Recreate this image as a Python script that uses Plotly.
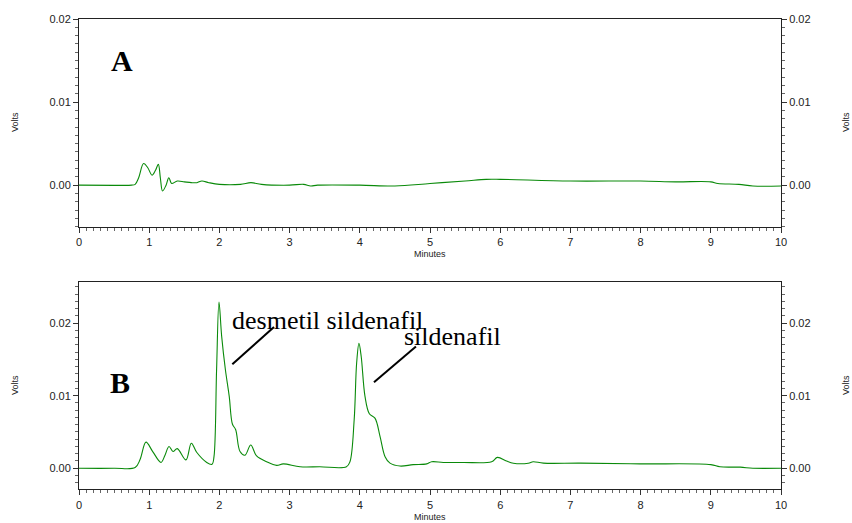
import plotly.graph_objects as go

# Panel A chromatogram (minutes, volts)
time_a = [0.0, 0.5, 0.75, 0.8, 0.85, 0.92, 0.98, 1.04, 1.09, 1.13, 1.16, 1.19, 1.24, 1.28, 1.32, 1.4, 1.5,
          1.6, 1.68, 1.75, 1.85, 2.0, 2.3, 2.45, 2.6, 3.0, 3.2, 3.3, 3.4, 4.0, 4.5, 5.0, 5.5, 5.8,
          6.0, 7.0, 8.0, 8.5, 9.0, 9.1, 9.4, 9.6, 10.0]
volts_a = [0.0, -0.00002, 0.0, 0.0001, 0.0009, 0.0026, 0.0021, 0.0012, 0.0018, 0.0025, 0.0008, -0.0007,
           0.0, 0.0009, 0.0002, 0.0005, 0.0004, 0.0003, 0.0003, 0.0005, 0.0003, 0.0001, 0.0001, 0.0003,
           0.0001, 0.0, 0.0001, -0.0001, 0.0, 0.0, -0.0001, 0.0002, 0.0005, 0.0007, 0.0007, 0.0005,
           0.0005, 0.0004, 0.0004, 0.0002, 0.0001, -0.0001, -0.0001]

# Panel B chromatogram
time_b = [0.0, 0.5, 0.8, 0.87, 0.954, 1.05, 1.168, 1.225, 1.282, 1.339, 1.40, 1.524, 1.60, 1.676, 1.82,
          1.895, 1.923, 1.96, 1.994, 2.032, 2.085, 2.14, 2.185, 2.232, 2.294, 2.365, 2.446, 2.53,
          2.673, 2.815, 2.91, 3.149, 3.43, 3.81, 3.86, 3.92, 3.955, 3.988, 4.02, 4.074, 4.136, 4.216,
          4.288, 4.36, 4.43, 4.573, 4.76, 4.953, 5.024, 5.19, 5.474, 5.878, 5.96, 6.09, 6.187, 6.4,
          6.47, 6.614, 7.14, 7.99, 9.0, 9.13, 9.42, 9.6, 10.0]
volts_b = [0.0, 0.0, 0.0001, 0.0012, 0.0036, 0.0023, 0.0008, 0.0018, 0.0030, 0.0023, 0.0027, 0.00115,
           0.00345, 0.0022, 0.0008, 0.00055, 0.0016, 0.0136, 0.0229, 0.0182, 0.0136, 0.0099, 0.0061,
           0.0053, 0.0023, 0.0018, 0.0032, 0.0017, 0.0009, 0.0004, 0.0006, 0.0002, 0.0002, 0.0002,
           0.0009, 0.0067, 0.0145, 0.0172, 0.0154, 0.0099, 0.0075, 0.0069, 0.0044, 0.0016, 0.0007,
           0.0003, 0.0005, 0.0006, 0.0009, 0.0008, 0.0008, 0.0009, 0.0015, 0.0010, 0.0007, 0.0007,
           0.0009, 0.0007, 0.0007, 0.0006, 0.0005, 0.0002, 0.00015, 0.0, 0.0]

x_ticks = [0, 1, 2, 3, 4, 5, 6, 7, 8, 9, 10]
y_ticks_a = [0.0, 0.01, 0.02]
y_ticks_b = [0.0, 0.01, 0.02]
range_a = [-0.005, 0.02]
range_b = [-0.0029, 0.0257]

W, H = 852, 523
GREEN = "#0a8a0a"
TICKFONT = dict(family="Liberation Sans, Arial, sans-serif", size=11, color="#222")

fig = go.Figure()
fig.add_trace(go.Scatter(x=time_a, y=volts_a, mode="lines", line=dict(color=GREEN, width=1.1),
                         xaxis="x", yaxis="y", showlegend=False, line_shape="spline"))
fig.add_trace(go.Scatter(x=time_a, y=volts_a, mode="lines", line=dict(color="rgba(0,0,0,0)", width=0),
                         xaxis="x", yaxis="y3", showlegend=False, hoverinfo="skip"))
fig.add_trace(go.Scatter(x=time_b, y=volts_b, mode="lines", line=dict(color=GREEN, width=1.1),
                         xaxis="x2", yaxis="y2", showlegend=False, line_shape="spline"))
fig.add_trace(go.Scatter(x=time_b, y=volts_b, mode="lines", line=dict(color="rgba(0,0,0,0)", width=0),
                         xaxis="x2", yaxis="y4", showlegend=False, hoverinfo="skip"))

xdom = [79 / W, 781 / W]
ydom_a = [1 - 226.7 / H, 1 - 19 / H]
ydom_b = [1 - 489.3 / H, 1 - 281.7 / H]

def xax(anchor):
    return dict(domain=xdom, anchor=anchor, range=[0, 10], tickvals=x_ticks, ticks="outside",
                ticklen=5, tickcolor="#333", showline=True, linecolor="#222", linewidth=1,
                mirror=True, showgrid=False, zeroline=False, tickfont=TICKFONT,
                minor=dict(ticks="outside", dtick=0.1, ticklen=3, tickcolor="#666", showgrid=False))

def yax(dom, rng, ticks, anchor, side="left", overlay=None):
    d = dict(domain=dom, anchor=anchor, range=rng, tickvals=ticks, tickformat=".2f", ticks="outside",
             ticklen=5, tickcolor="#333", showline=True, linecolor="#222", linewidth=1,
             showgrid=False, zeroline=False, tickfont=TICKFONT, side=side,
             minor=dict(ticks="outside", dtick=0.001, ticklen=3, tickcolor="#666", showgrid=False))
    if overlay:
        d["overlaying"] = overlay
    return d

fig.update_layout(
    width=W, height=H, margin=dict(l=0, r=0, t=0, b=0, autoexpand=False),
    paper_bgcolor="white", plot_bgcolor="white",
    xaxis=xax("y"), xaxis2=xax("y2"),
    yaxis=yax(ydom_a, range_a, y_ticks_a, "x"),
    yaxis3=yax(ydom_a, range_a, y_ticks_a, "x", side="right", overlay="y"),
    yaxis2=yax(ydom_b, range_b, y_ticks_b, "x2"),
    yaxis4=yax(ydom_b, range_b, y_ticks_b, "x2", side="right", overlay="y2"),
)

def px_ann(text, px, py, size, family="Liberation Sans, Arial, sans-serif", bold=False,
           angle=0, xanchor="center", color="#222"):
    fig.add_annotation(text=f"<b>{text}</b>" if bold else text, x=px / W, y=1 - py / H,
                       xref="paper", yref="paper", showarrow=False, xanchor=xanchor,
                       yanchor="middle", textangle=angle,
                       font=dict(family=family, size=size, color=color))

SERIF = "Liberation Serif, Times New Roman, serif"
# axis titles
px_ann("Minutes", 430, 254, 9)
px_ann("Minutes", 430, 517, 9)
px_ann("Volts", 15, 122, 9, angle=-90)
px_ann("Volts", 15, 385, 9, angle=-90)
px_ann("Volts", 846, 122, 9, angle=-90)
px_ann("Volts", 846, 385, 9, angle=-90)
# panel letters
px_ann("A", 109, 61, 30, family=SERIF, bold=True, xanchor="left", color="black")
px_ann("B", 108, 382, 30, family=SERIF, bold=True, xanchor="left", color="black")
# peak labels
px_ann("desmetil sildenafil", 230, 320, 26, family=SERIF, xanchor="left", color="black")
px_ann("sildenafil", 402, 336, 26, family=SERIF, xanchor="left", color="black")

fig.add_shape(type="line", xref="x2", yref="y2", x0=2.184, y0=0.01434, x1=2.778, y1=0.01945,
              line=dict(color="black", width=2))
fig.add_shape(type="line", xref="x2", yref="y2", x0=4.202, y0=0.01186, x1=4.80, y1=0.01677,
              line=dict(color="black", width=2))

fig.write_html("out.html", config={"displayModeBar": False},
               post_script="document.body.style.margin='0';document.body.style.padding='0';")
